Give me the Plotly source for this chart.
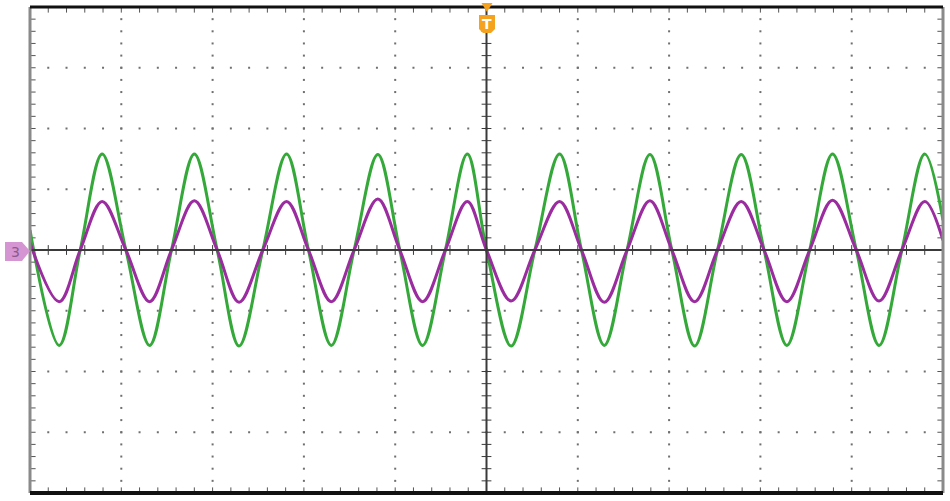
import numpy as np
import plotly.graph_objects as go

# Waveform key points (x and y in divisions, trigger at x=0)
T_DIV = [-5.00, -4.68, -4.45, -4.21, -3.95, -3.69, -3.45, -3.20, -2.95, -2.71,
         -2.45, -2.19, -1.95, -1.70, -1.45, -1.19, -0.95, -0.70, -0.45, -0.21,
         0.00, 0.27, 0.53, 0.80, 1.04, 1.29, 1.54, 1.79, 2.03, 2.28,
         2.53, 2.79, 3.04, 3.29, 3.54, 3.79, 4.05, 4.30, 4.55, 4.80, 5.00]
CH_GREEN = [0.33, -1.57, 0.00, 1.58, 0.00, -1.57, 0.00, 1.58, 0.00, -1.58,
            0.00, 1.58, 0.00, -1.57, 0.00, 1.57, 0.00, -1.57, 0.00, 1.58,
            0.00, -1.58, 0.00, 1.58, 0.00, -1.57, 0.00, 1.57, 0.00, -1.58,
            0.00, 1.57, 0.00, -1.57, 0.00, 1.58, 0.00, -1.57, 0.00, 1.58, 0.49]
CH_MAGENTA = [0.12, -0.85, 0.00, 0.80, 0.00, -0.85, 0.00, 0.81, 0.00, -0.86,
              0.00, 0.80, 0.00, -0.85, 0.00, 0.84, 0.00, -0.85, 0.00, 0.80,
              0.00, -0.84, 0.00, 0.80, 0.00, -0.86, 0.00, 0.81, 0.00, -0.85,
              0.00, 0.80, 0.00, -0.85, 0.00, 0.82, 0.00, -0.84, 0.00, 0.80, 0.16]

X_DIVS = 5   # half-width in divisions
Y_DIVS = 4   # half-height in divisions
MINOR = 0.2

W, H = 950, 501
ML, MR, MT, MB = 30, 7, 7, 8
PW, PH = W - ML - MR, H - MT - MB

GRID_COL = "#6f6f6f"
AXIS_COL = "#3a3a3a"


def px(x, y):
    """pixel -> paper coords"""
    return (x - ML) / PW, (H - MB - y) / PH


def path(points):
    s = ""
    for i, (x, y) in enumerate(points):
        u, v = px(x, y)
        s += ("M" if i == 0 else "L") + f"{u:.5f},{v:.5f} "
    return s + "Z"


fig = go.Figure()

# dotted graticule
gx, gy = [], []
minor_y = np.round(np.arange(-Y_DIVS, Y_DIVS + 1e-9, MINOR), 3)
minor_x = np.round(np.arange(-X_DIVS, X_DIVS + 1e-9, MINOR), 3)
for i in range(-X_DIVS + 1, X_DIVS):
    if i == 0:
        continue
    gx += [i] * len(minor_y)
    gy += list(minor_y)
for j in range(-Y_DIVS + 1, Y_DIVS):
    if j == 0:
        continue
    gx += list(minor_x)
    gy += [j] * len(minor_x)
fig.add_trace(go.Scatter(
    x=gx, y=gy, mode="markers", hoverinfo="skip",
    marker=dict(symbol="square", size=2, color=GRID_COL, line_width=0),
))

# tick marks on centre lines and on the border
tick_sets = [
    (minor_x, [0] * len(minor_x), "line-ns", 7, AXIS_COL),
    ([0] * len(minor_y), minor_y, "line-ew", 7, AXIS_COL),
    (minor_x, [Y_DIVS] * len(minor_x), "line-ns", 8, "#555"),
    (minor_x, [-Y_DIVS] * len(minor_x), "line-ns", 8, "#555"),
    ([-X_DIVS] * len(minor_y), minor_y, "line-ew", 8, "#555"),
    ([X_DIVS] * len(minor_y), minor_y, "line-ew", 8, "#555"),
]
for tx, ty, sym, sz, col in tick_sets:
    fig.add_trace(go.Scatter(
        x=list(tx), y=list(ty), mode="markers", hoverinfo="skip",
        marker=dict(symbol=sym, size=sz, line=dict(color=col, width=1)),
    ))

# centre lines
fig.add_hline(y=0, line_color=AXIS_COL, line_width=2)
fig.add_vline(x=0, line_color=AXIS_COL, line_width=2)

# waveforms
fig.add_trace(go.Scatter(
    x=T_DIV, y=CH_GREEN, mode="lines", name="CH2",
    line=dict(color="#35a83a", width=3, shape="spline", smoothing=1.0),
))
fig.add_trace(go.Scatter(
    x=T_DIV, y=CH_MAGENTA, mode="lines", name="CH3",
    line=dict(color="#9a2c9f", width=3, shape="spline", smoothing=1.0),
))

# screen border
fig.add_shape(type="line", xref="paper", yref="paper", x0=0, x1=0, y0=0, y1=1,
              line=dict(color="#8a8a8a", width=3))
fig.add_shape(type="line", xref="paper", yref="paper", x0=1, x1=1, y0=0, y1=1,
              line=dict(color="#8a8a8a", width=3))
fig.add_shape(type="line", xref="paper", yref="paper", x0=0, x1=1, y0=1, y1=1,
              line=dict(color="#111", width=3))
fig.add_shape(type="line", xref="paper", yref="paper", x0=0, x1=1, y0=0, y1=0,
              line=dict(color="#111", width=4))

# trigger marker (top)
ORANGE = "#f5a21e"
fig.add_shape(type="path", xref="paper", yref="paper", layer="above",
              path=path([(481.5, 3), (492.5, 3), (487, 12)]),
              fillcolor=ORANGE, line_width=0)
fig.add_shape(type="path", xref="paper", yref="paper", layer="above",
              path=path([(479, 15), (495, 15), (495, 29), (491, 33), (483, 33), (479, 29)]),
              fillcolor=ORANGE, line_width=0)
tu, tv = px(487, 24)
fig.add_annotation(x=tu, y=tv, xref="paper", yref="paper", text="<b>T</b>",
                   xanchor="center", yanchor="middle", showarrow=False,
                   font=dict(color="white", size=14, family="DejaVu Sans"))

# channel 3 ground marker (left)
fig.add_shape(type="path", xref="paper", yref="paper", layer="above",
              path=path([(5, 242), (22, 242), (30, 251), (22, 261), (5, 261)]),
              fillcolor="#d495d2", line_width=0)
cu, cv = px(15, 252)
fig.add_annotation(x=cu, y=cv, xref="paper", yref="paper", text="3",
                   xanchor="center", yanchor="middle", showarrow=False,
                   font=dict(color="#8c5a8c", size=14, family="DejaVu Sans"))

fig.update_layout(
    width=W, height=H,
    margin=dict(l=ML, r=MR, t=MT, b=MB),
    plot_bgcolor="white",
    paper_bgcolor="white",
    showlegend=False,
    xaxis=dict(range=[-X_DIVS, X_DIVS], showgrid=False, zeroline=False,
               showticklabels=False, ticks="", fixedrange=True),
    yaxis=dict(range=[-Y_DIVS, Y_DIVS], showgrid=False, zeroline=False,
               showticklabels=False, ticks="", fixedrange=True),
)

# page body has a default 8px margin; drop it so the figure sits at 0,0
fig.write_html("out.html", config={"displayModeBar": False},
               post_script="document.body.style.margin='0px';document.body.style.overflow='hidden';")
